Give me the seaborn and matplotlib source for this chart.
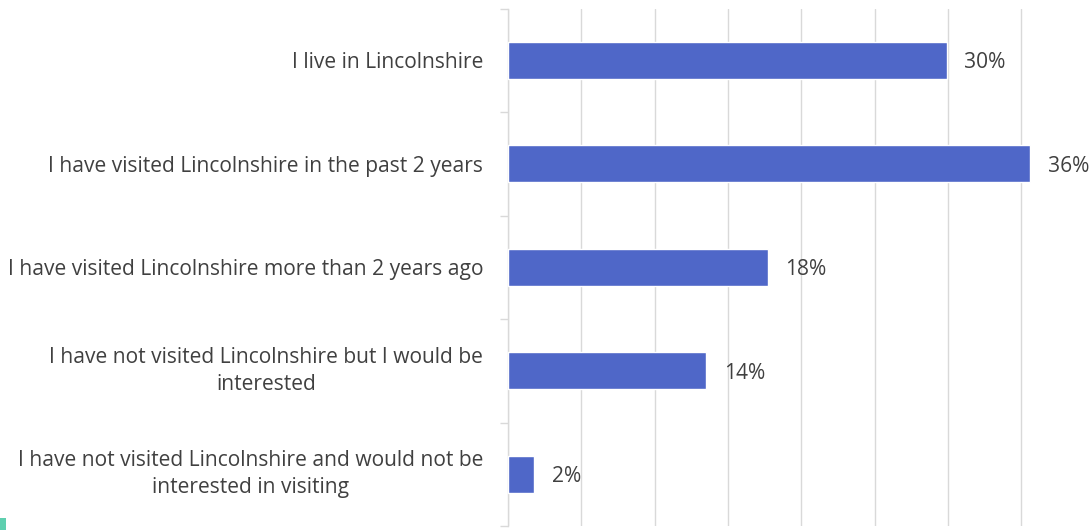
import matplotlib
matplotlib.use("Agg")
import matplotlib.pyplot as plt
import seaborn as sns
import pandas as pd
import numpy as np
from matplotlib.patches import Rectangle

categories = [
    "I live in Lincolnshire",
    "I have visited Lincolnshire in the past 2 years",
    "I have visited Lincolnshire more than 2 years ago",
    "I have not visited Lincolnshire but I would be\ninterested",
    "I have not visited Lincolnshire and would not be\ninterested in visiting",
]
values = [29.9, 35.6, 17.7, 13.5, 1.8]
grid_ticks = [0, 5, 10, 15, 20, 25, 30, 35, 40]

sns.set_theme(style="white")
plt.rcParams["font.family"] = ["Open Sans", "DejaVu Sans"]

df = pd.DataFrame({"category": categories, "value": values})

fig = plt.figure(figsize=(10.89, 5.30), dpi=100)
ax = fig.add_axes([508 / 1089, 1 - 526 / 530, 586.7 / 1089, 517.5 / 530])

sns.barplot(data=df, y="category", x="value", orient="h", color="#4F67C8",
            saturation=1, width=0.36, ax=ax, zorder=3)

ax.set_xlim(0, 40)
ax.set_xticks(grid_ticks)
ax.set_xticklabels([])
ax.tick_params(axis="x", length=0)
ax.grid(axis="x", color="#d9d9d9", linewidth=1.0, zorder=0)
ax.set_axisbelow(True)
ax.set_xlabel("")
ax.set_ylabel("")

for s in ["top", "right", "bottom"]:
    ax.spines[s].set_visible(False)
ax.spines["left"].set_color("#d9d9d9")
ax.spines["left"].set_linewidth(1.0)

ax.set_yticks(np.arange(len(categories)))
ax.set_yticklabels(categories, fontsize=15.1, color="#404040", ha="right",
                   va="center", multialignment="center", linespacing=1.4)
for lab in ax.get_yticklabels():
    if "\n" not in lab.get_text():
        lab.set_va("center_baseline")
ax.tick_params(axis="y", which="major", length=0, pad=18)
ax.set_yticks(np.arange(-0.5, len(categories), 1.0), minor=True)
ax.tick_params(axis="y", which="minor", length=6, width=1.0, color="#d9d9d9",
               direction="out", left=True)

for i, v in enumerate(values):
    ax.text(v + 1.2, i, f"{v:.0f}%", va="center_baseline", ha="left",
            fontsize=15.1, color="#404040")

fig.patches.append(Rectangle((0, 0), 6 / 1089, 12 / 530, transform=fig.transFigure,
                             facecolor="#5ECFAF", edgecolor="none"))

fig.savefig("out.png", dpi=100)
